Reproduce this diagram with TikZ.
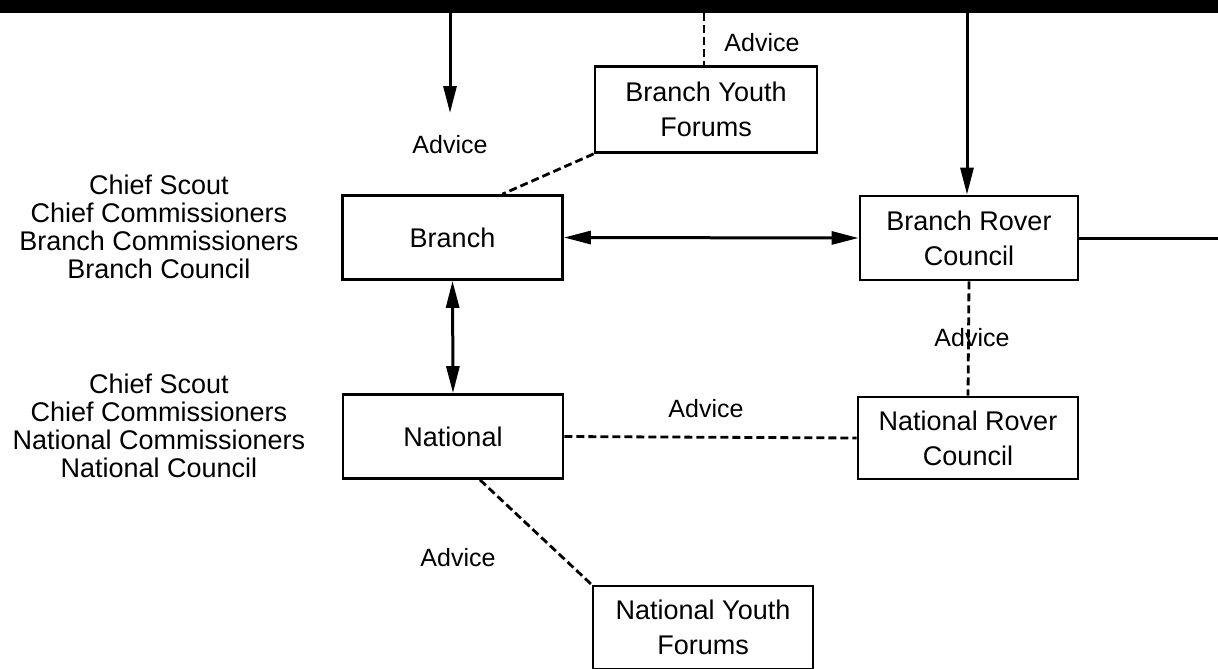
\documentclass[tikz,border=0pt]{standalone}
\usepackage{fontspec}
\setmainfont{Liberation Sans}
\usetikzlibrary{arrows.meta}

\tikzset{
    unit/.style={draw, line width=2.8pt, minimum width=220pt, minimum height=84pt,
        align=center, font=\fontsize{27}{35}\selectfont},
    officers/.style={align=center, font=\fontsize{27}{28}\selectfont},
    advice/.style={font=\fontsize{25}{29}\selectfont},
    link/.style={line width=3pt},
    advicelink/.style={line width=2.8pt, dash pattern=on 8pt off 4pt},
    onearrow/.style={-{Triangle[length=27pt,width=13pt]}},
    twoarrow/.style={{Triangle[length=27pt,width=13pt]}-{Triangle[length=27pt,width=13pt]}},
}

\begin{document}
\begin{tikzpicture}[x=1pt,y=-1pt]
    \useasboundingbox (0,0) rectangle (1218,669);
    \clip (0,0) rectangle (1218,669);

    \fill[black] (0,0) rectangle (1218,13);

    \coordinate (top_left) at (450,13);
    \coordinate (top_mid) at (704,13);
    \coordinate (top_right) at (967,13);
    \coordinate (left_end) at (450,113);
    \coordinate (edge_right) at (1218,238);

    \node[unit] (branch) at (452.5,237.5) {Branch};
    \node[unit, minimum width=222pt, minimum height=86pt] (byf) at (706,109.5) {Branch Youth\\Forums};
    \node[unit, minimum width=218pt] (brc) at (969,238) {Branch Rover\\Council};
    \node[unit] (national) at (453,436.5) {National};
    \node[unit, minimum height=82pt] (nrc) at (968,438) {National Rover\\Council};
    \node[unit, minimum height=83pt] (nyf) at (703,627.5) {National Youth\\Forums};

    \node[officers] (branch_officers) at (159,227) {Chief Scout\\Chief Commissioners\\Branch Commissioners\\Branch Council};
    \node[officers] (national_officers) at (159,426) {Chief Scout\\Chief Commissioners\\National Commissioners\\National Council};

    \draw[link, onearrow] (top_left) -- (left_end);
    \draw[link, onearrow] (top_right) -- (top_right |- brc.north);
    \draw[advicelink] (top_mid) -- (top_mid |- byf.north);
    \draw[advicelink] (byf.south west) -- ([xshift=50pt]branch.north);

    \draw[link, twoarrow] (branch.east) -- (brc.west);
    \draw[link] (brc.east) -- (edge_right);
    \draw[link, twoarrow] (branch.south) -- (national.north);

    \draw[advicelink] (national.east) -- (nrc.west);
    \draw[advicelink] (brc.south) -- (nrc.north);
    \draw[advicelink] ([xshift=27pt]national.south) -- (nyf.north west);

    \node[advice] (adv_branch) at (450,145) {Advice};
    \node[advice] (adv_byf) at (762,43) {Advice};
    \node[advice] (adv_rover) at (972,338) {Advice};
    \node[advice] (adv_national) at (706,409) {Advice};
    \node[advice] (adv_nyf) at (458,558) {Advice};
\end{tikzpicture}
\end{document}
